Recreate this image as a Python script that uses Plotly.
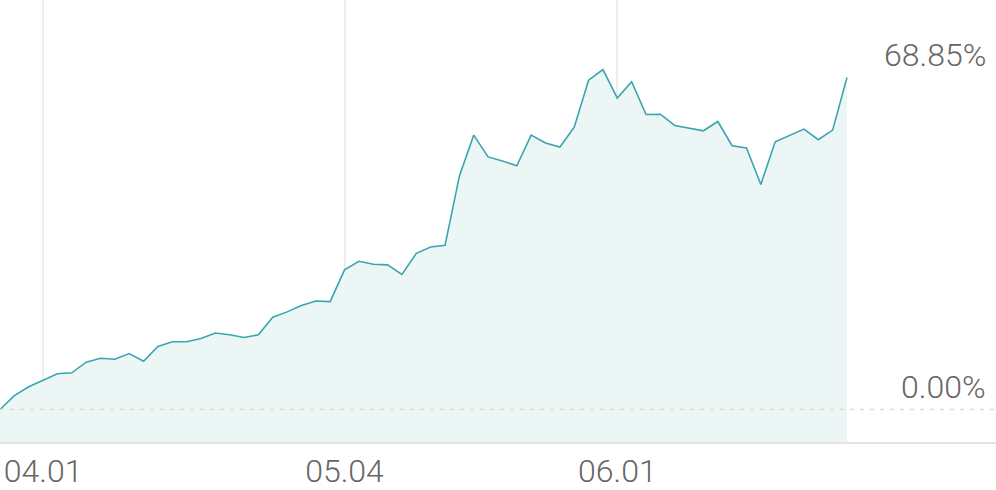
import plotly.graph_objects as go

# cumulative return (%) per trading day
returns = [
    0.00, 2.88, 4.73, 6.10, 7.41, 7.62, 9.81, 10.63, 10.42, 11.60,
    10.01, 13.10, 14.07, 14.07, 14.75, 15.86, 15.51, 14.95, 15.51, 19.16,
    20.25, 21.55, 22.51, 22.37, 28.96, 30.75, 30.13, 29.99, 28.01, 32.40,
    33.70, 34.05, 48.40, 56.91, 52.38, 51.56, 50.53, 56.91, 55.27, 54.44,
    58.56, 68.30, 70.50, 64.59, 67.97, 61.17, 61.24, 58.91, 58.42, 57.80,
    59.73, 54.71, 54.23, 46.67, 55.53, 56.77, 58.15, 55.94, 57.94, 68.85,
]
days = list(range(len(returns)))

tick_days = [3, 24, 43]
tick_labels = ["04.01", "05.04", "06.01"]

y_min, y_max = -6.73, 84.92
x_max = 69.38

line_color = "#3aa5b0"
fill_color = "#ecf6f5"
text_color = "#666666"
font = dict(family="Roboto", size=32, color=text_color, weight=300)

fig = go.Figure()

# invisible baseline at the bottom of the plot so the fill reaches the axis
fig.add_trace(
    go.Scatter(
        x=days,
        y=[y_min] * len(days),
        mode="lines",
        line=dict(width=0),
        hoverinfo="skip",
        showlegend=False,
    )
)
fig.add_trace(
    go.Scatter(
        x=days,
        y=returns,
        mode="lines",
        line=dict(color=line_color, width=1.6),
        fill="tonexty",
        fillcolor=fill_color,
        showlegend=False,
        hovertemplate="%{y:.2f}%<extra></extra>",
    )
)

# dashed zero line across the whole width
fig.add_shape(
    type="line",
    xref="paper",
    yref="y",
    x0=0,
    x1=1,
    y0=0,
    y1=0,
    line=dict(color="#dcdcdc", width=1.5, dash="4px,6px"),
)

# value labels on the right, sitting just above their levels
for value in [returns[-1], 0.0]:
    fig.add_annotation(
        xref="paper",
        yref="y",
        x=1,
        y=value,
        text=f"{value:.2f}%",
        showarrow=False,
        xanchor="right",
        yanchor="bottom",
        xshift=-8,
        yshift=2,
        font=font,
    )

fig.update_layout(
    width=996,
    height=490,
    margin=dict(l=0, r=0, t=0, b=45),
    paper_bgcolor="white",
    plot_bgcolor="white",
    font=font,
    xaxis=dict(
        range=[0, x_max],
        tickmode="array",
        tickvals=tick_days,
        ticktext=tick_labels,
        showgrid=True,
        gridcolor="#eeeeee",
        gridwidth=2,
        showline=True,
        linecolor="#e3e3e3",
        linewidth=2,
        ticks="",
        zeroline=False,
        tickfont=font,
    ),
    yaxis=dict(
        range=[y_min, y_max],
        showgrid=False,
        zeroline=False,
        showticklabels=False,
    ),
)

# drop the browser's default body margin so the chart sits flush in the window
fig.write_html(
    "out.html",
    config={"displayModeBar": False},
    post_script="document.body.style.margin = '0';",
)
